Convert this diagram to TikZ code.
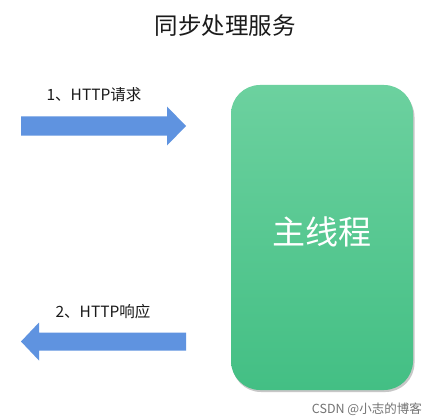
\documentclass[tikz,border=0pt]{standalone}
\usepackage{fontspec}
\setmainfont{Noto Sans CJK SC}
\usetikzlibrary{shadings}
\definecolor{arrowblue}{HTML}{5F93E0}
\definecolor{gtop}{HTML}{6CD19F}
\definecolor{gbot}{HTML}{43BF84}
\definecolor{titlecol}{HTML}{1A1A1A}
\tikzset{
  blockarrow/.style={fill=arrowblue, draw=none},
  lbl/.style={font=\fontsize{15.5}{18}\selectfont, text=titlecol, inner sep=0},
}
\begin{document}
\begin{tikzpicture}[x=1pt,y=-1pt]
\useasboundingbox (0,0) rectangle (428,417);
\fill[white] (0,0) rectangle (428,417);
% title
\node[font=\fontsize{23.5}{28}\selectfont, text=titlecol, inner sep=0] (title) at (225,26) {同步处理服务};
% arrow 1 (right)
\fill[blockarrow] (21,116.5) -- (167,116.5) -- (167,106.5) -- (186,126) -- (167,145.5) -- (167,135.5) -- (21,135.5) -- cycle;
\node[lbl] (l1) at (94,95) {1、HTTP请求};
% arrow 2 (left)
\fill[blockarrow] (186,332.5) -- (39,332.5) -- (39,322.5) -- (21,341.5) -- (39,360.5) -- (39,350.5) -- (186,350.5) -- cycle;
\node[lbl] (l2) at (103,312) {2、HTTP响应};
% shadow
\fill[black!22, rounded corners=29pt] (232,88) rectangle (414.5,392);
% main rect
\shade[top color=gtop, bottom color=gbot, rounded corners=29pt] (231,85) rectangle (413,390);
\node[font=\fontsize{33}{40}\selectfont, text=white, inner sep=0] (main) at (322,232) {主线程};
% watermark
\node[font=\fontsize{12.5}{14}\selectfont, text=black!55, anchor=east, inner sep=0] (wm) at (422,409) {CSDN @小志的博客};
\end{tikzpicture}
\end{document}
